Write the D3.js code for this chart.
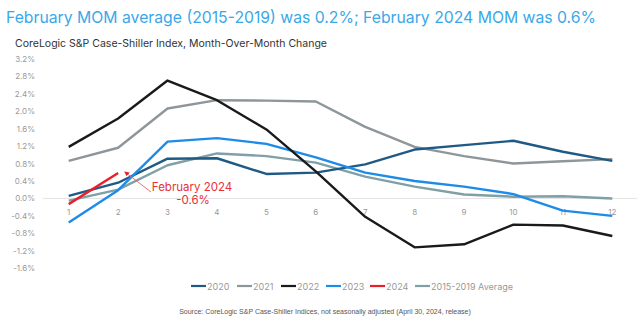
<!DOCTYPE html>
<html>
<head>
<meta charset="utf-8">
<script src="https://cdn.jsdelivr.net/npm/d3@7"></script>
<style>
  body { margin: 0; background: #fff; }
  svg { display: block; font-family: Inter, "Open Sans", sans-serif; }
</style>
</head>
<body>
<svg id="chart" width="640" height="328"></svg>
<script>
// Data
const months = [1, 2, 3, 4, 5, 6, 7, 8, 9, 10, 11, 12];
const seriesNames = ["2020", "2021", "2022", "2023", "2024", "2015-2019 Average"];
const seriesColors = ["#1f5a85", "#8e9699", "#1a1a1a", "#1e8be8", "#e8202a", "#7fa0a6"];
const v2020 = [0.06, 0.36, 0.91, 0.92, 0.56, 0.59, 0.78, 1.12, 1.22, 1.32, 1.07, 0.86];
const v2021 = [0.86, 1.16, 2.06, 2.25, 2.24, 2.22, 1.64, 1.18, 0.97, 0.80, 0.85, 0.90];
const v2022 = [1.18, 1.83, 2.70, 2.25, 1.58, 0.62, -0.42, -1.12, -1.05, -0.60, -0.62, -0.86];
const v2023 = [-0.55, 0.19, 1.30, 1.38, 1.25, 0.94, 0.59, 0.40, 0.27, 0.10, -0.28, -0.40];
const v2024 = [-0.13, 0.58];
const vAvg = [-0.05, 0.20, 0.76, 1.03, 0.97, 0.82, 0.50, 0.27, 0.09, 0.04, 0.05, 0.00];
const yTicks = [3.2, 2.8, 2.4, 2.0, 1.6, 1.2, 0.8, 0.4, 0.0, -0.4, -0.8, -1.2, -1.6];

const seriesValues = [v2020, v2021, v2022, v2023, v2024, vAvg];

const svg = d3.select("#chart");

// Scales
const x = d3.scalePoint().domain(months).range([44, 637]).padding(0.5);
const y = d3.scaleLinear().domain([-1.6, 3.2]).range([268.3, 58.7]);

// Title
svg.append("text")
  .attr("x", 6).attr("y", 23)
  .attr("font-size", 16.5)
  .attr("fill", "#3aa8e8")
  .attr("textLength", 590)
  .attr("lengthAdjust", "spacingAndGlyphs")
  .text("February MOM average (2015-2019) was 0.2%; February 2024 MOM was 0.6%");

svg.append("text")
  .attr("x", 15).attr("y", 47)
  .attr("font-size", 10.5)
  .attr("fill", "#333")
  .attr("textLength", 312)
  .attr("lengthAdjust", "spacingAndGlyphs")
  .text("CoreLogic S&P Case-Shiller Index, Month-Over-Month Change");

// Y axis labels
svg.append("g")
  .selectAll("text")
  .data(yTicks)
  .enter()
  .append("text")
  .attr("x", 35)
  .attr("y", (d) => y(d) + 3)
  .attr("text-anchor", "end")
  .attr("font-size", 8)
  .attr("fill", "#999")
  .text((d) => d.toFixed(1) + "%");

// Zero line
svg.append("line")
  .attr("x1", 43).attr("x2", 637)
  .attr("y1", y(0)).attr("y2", y(0))
  .attr("stroke", "#e3e3e3")
  .attr("stroke-width", 1);

// X labels
svg.append("g")
  .selectAll("text")
  .data(months)
  .enter()
  .append("text")
  .attr("x", (d) => x(d))
  .attr("y", 215)
  .attr("text-anchor", "middle")
  .attr("font-size", 8)
  .attr("fill", "#999")
  .text((d) => d);

// Lines
const line = d3.line()
  .x((d, i) => x(months[i]))
  .y((d) => y(d));

const drawOrder = [5, 1, 0, 3, 2, 4];
for (const i of drawOrder) {
  svg.append("path")
    .attr("d", line(seriesValues[i]))
    .attr("fill", "none")
    .attr("stroke", seriesColors[i])
    .attr("stroke-width", 2.4)
    .attr("stroke-linejoin", "round");
}

// Annotation
svg.append("defs").append("marker")
  .attr("id", "arrow")
  .attr("viewBox", "0 0 10 10")
  .attr("refX", 8).attr("refY", 5)
  .attr("markerWidth", 5).attr("markerHeight", 5)
  .attr("orient", "auto")
  .append("path")
  .attr("d", "M0,0 L10,5 L0,10 z")
  .attr("fill", "#e8202a");

svg.append("line")
  .attr("x1", 151).attr("y1", 192)
  .attr("x2", 125).attr("y2", 172)
  .attr("stroke", "#e8707a")
  .attr("stroke-width", 1)
  .attr("marker-end", "url(#arrow)");

svg.append("text")
  .attr("x", 192).attr("y", 191)
  .attr("text-anchor", "middle")
  .attr("font-size", 11.5)
  .attr("fill", "#e8303a")
  .text("February 2024");
svg.append("text")
  .attr("x", 193).attr("y", 204)
  .attr("text-anchor", "middle")
  .attr("font-size", 11.5)
  .attr("fill", "#e8303a")
  .text("-0.6%");

// Legend
const legendX = [191, 237, 281, 326, 370, 415];
const legend = svg.append("g")
  .selectAll("g")
  .data(seriesNames)
  .enter()
  .append("g")
  .attr("transform", (d, i) => `translate(${legendX[i]},286)`);
legend.append("line")
  .attr("x1", 0).attr("x2", 15)
  .attr("stroke", (d, i) => seriesColors[i])
  .attr("stroke-width", 2.2);
legend.append("text")
  .attr("x", 16).attr("y", 3.5)
  .attr("font-size", 9)
  .attr("fill", "#999")
  .text((d) => d);

// Source
svg.append("text")
  .attr("x", 325).attr("y", 314)
  .attr("text-anchor", "middle")
  .attr("font-family", "Liberation Sans, Arial, sans-serif")
  .attr("font-size", 7)
  .attr("fill", "#555")
  .text("Source: CoreLogic S&P Case-Shiller Indices, not seasonally adjusted (April 30, 2024, release)");
</script>
</body>
</html>
